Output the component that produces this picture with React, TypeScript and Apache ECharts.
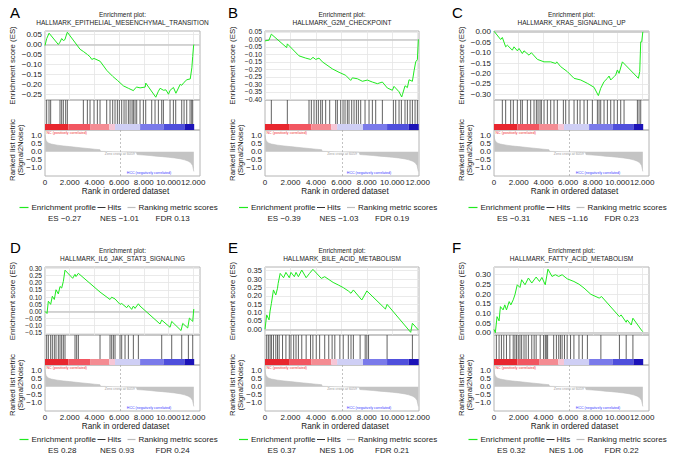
import React, { useEffect, useRef } from "react";
import * as echarts from "echarts";

// ---------------- data ----------------
const PANEL_LETTERS = ["A", "B", "C", "D", "E", "F"];
const GENE_SETS = [
  "HALLMARK_EPITHELIAL_MESENCHYMAL_TRANSITION",
  "HALLMARK_G2M_CHECKPOINT",
  "HALLMARK_KRAS_SIGNALING_UP",
  "HALLMARK_IL6_JAK_STAT3_SIGNALING",
  "HALLMARK_BILE_ACID_METABOLISM",
  "HALLMARK_FATTY_ACID_METABOLISM",
];
const ES_VALUES = [-0.27, -0.39, -0.31, 0.28, 0.37, 0.32];
const NES_VALUES = [-1.01, -1.03, -1.16, 0.93, 1.06, 1.06];
const FDR_VALUES = [0.13, 0.19, 0.23, 0.24, 0.21, 0.22];

const ES_TICKS_A = [0.05, 0, -0.05, -0.1, -0.15, -0.2, -0.25];
const ES_TICKS_B = [0.05, 0, -0.05, -0.1, -0.15, -0.2, -0.25, -0.3, -0.35, -0.4];
const ES_TICKS_C = [0, -0.05, -0.1, -0.15, -0.2, -0.25, -0.3];
const ES_TICKS_D = [0.3, 0.25, 0.2, 0.15, 0.1, 0.05, 0, -0.05, -0.1, -0.15];
const ES_TICKS_E = [0.35, 0.3, 0.25, 0.2, 0.15, 0.1, 0.05, 0];
const ES_TICKS_F = [0.3, 0.25, 0.2, 0.15, 0.1, 0.05, 0];

const ES_PROFILE_A = [
  [0, -0.005], [140, 0.03], [330, 0.057], [1080, 0.0], [1215, 0.012], [1350, 0.03], [1485, 0.02], [1620, 0.025],
  [1680, 0.038], [1810, 0.062], [2840, -0.024], [3105, -0.035], [3430, -0.05], [3650, -0.062], [3790, -0.075],
  [3970, -0.07], [4460, -0.084], [5000, -0.13], [5480, -0.16], [5860, -0.18], [6350, -0.208], [6750, -0.22],
  [7160, -0.232], [7300, -0.22], [7430, -0.214], [7700, -0.218], [8110, -0.214], [8160, -0.194], [8970, -0.265],
  [9180, -0.235], [9320, -0.22], [9590, -0.23], [9790, -0.228], [10000, -0.25], [10130, -0.23], [10400, -0.216],
  [10600, -0.245], [10950, -0.2], [11070, -0.205], [11260, -0.19], [11490, -0.177], [11760, -0.173],
  [11890, -0.117], [11960, -0.06], [12030, -0.007], [12050, 0.0],
];
const HITS_A = [
  135, 324, 459, 1215, 1350, 1485, 1674, 1809, 3105, 3429, 3645, 3969, 4239, 4455, 4995, 5265, 5481, 5670, 5859,
  6021, 6210, 6399, 6561, 6750, 6885, 7047, 7155, 7290, 7425, 7695, 7965, 8154, 8640, 8910, 9180, 9450, 9585,
  10125, 10395, 10584, 11070, 11259, 11475, 11745, 11880, 11961,
];

const ES_PROFILE_B = [
  [0, -0.01], [314, -0.005], [498, 0.035], [1703, -0.055], [1755, -0.03], [2672, -0.11], [3196, -0.125],
  [3589, -0.134], [3773, -0.12], [3982, -0.134], [4244, -0.125], [4506, -0.15], [5292, -0.197], [5816, -0.22],
  [6340, -0.24], [6733, -0.274], [6864, -0.257], [7257, -0.263], [7650, -0.28], [8043, -0.272], [8436, -0.285],
  [8829, -0.296], [9222, -0.285], [9615, -0.325], [10008, -0.34], [10139, -0.314], [10532, -0.35], [10742, -0.385],
  [10794, -0.37], [11004, -0.31], [11187, -0.322], [11318, -0.27], [11580, -0.28], [11711, -0.21], [11842, -0.15],
  [11973, -0.135], [12052, 0.0],
];
const HITS_B = [
  498, 1755, 3458, 3642, 3851, 4035, 4192, 4375, 4506, 4768, 5083, 5554, 5685, 5947, 6131, 6288, 6471, 6602, 6812,
  6995, 7179, 7336, 7519, 7860, 8174, 8436, 8698, 9222, 10087, 10270, 10532, 10716, 11000, 11187, 11397, 11580,
  11790, 11973,
];

const ES_PROFILE_C = [
  [0, 0.003], [540, -0.037], [675, -0.027], [945, -0.072], [1080, -0.064], [1485, -0.088], [1620, -0.072],
  [1890, -0.091], [2025, -0.08], [2295, -0.104], [2430, -0.091], [2835, -0.112], [3024, -0.1], [3510, -0.132],
  [4050, -0.144], [4590, -0.144], [4995, -0.152], [5076, -0.144], [5400, -0.167], [5940, -0.191], [6480, -0.223],
  [7020, -0.231], [7560, -0.247], [8100, -0.266], [8451, -0.306], [8640, -0.271], [8910, -0.239], [9180, -0.223],
  [9315, -0.212], [9450, -0.231], [9720, -0.215], [9855, -0.207], [9990, -0.183], [10125, -0.199], [10395, -0.144],
  [11691, -0.223], [11799, -0.191], [11880, -0.048], [11961, -0.048], [12050, 0.0],
];
const HITS_C = [
  675, 945, 1350, 1566, 1890, 2160, 2295, 2700, 2970, 3240, 3429, 3564, 3726, 3834, 4050, 4320, 4590, 4860, 5130,
  5616, 5805, 6075, 6480, 6750, 6966, 7290, 7560, 7965, 8370, 8505, 8640, 8910, 9180, 9450, 9720, 9990, 10260,
  10530, 11610, 11745, 11880,
];

const ES_PROFILE_D = [
  [0, 0.0], [162, -0.015], [270, 0.071], [459, 0.049], [594, 0.106], [756, 0.083], [891, 0.151], [1080, 0.122],
  [1215, 0.174], [1350, 0.163], [1485, 0.209], [1620, 0.288], [2241, 0.231], [2430, 0.259], [2511, 0.243],
  [2700, 0.266], [4455, 0.135], [5265, 0.083], [5400, 0.099], [5670, 0.087], [6075, 0.049], [6210, 0.055],
  [6615, 0.026], [6750, 0.042], [7020, 0.014], [7155, 0.037], [7290, 0.021], [7560, 0.053], [7695, 0.037],
  [9315, -0.088], [9450, -0.061], [10125, -0.111], [10260, -0.07], [11016, -0.134], [11151, -0.084],
  [11556, -0.116], [11691, -0.047], [11961, -0.07], [12042, 0.014], [12050, 0.008],
];
const HITS_D = [
  135, 270, 459, 594, 756, 891, 1080, 1215, 1350, 1485, 1620, 2430, 2565, 2700, 4455, 5265, 5400, 5535, 5670,
  6075, 6210, 6480, 6750, 7155, 7560, 9450, 10260, 11070, 11610, 11961,
];

const ES_PROFILE_E = [
  [0, 0.0], [133, 0.086], [318, 0.056], [398, 0.109], [504, 0.155], [663, 0.235], [848, 0.205], [981, 0.245],
  [1034, 0.274], [1193, 0.334], [1458, 0.308], [1643, 0.34], [1908, 0.308], [2041, 0.34], [2306, 0.314],
  [2438, 0.34], [2624, 0.314], [2889, 0.354], [3233, 0.308], [3498, 0.334], [3763, 0.358], [4426, 0.304],
  [4691, 0.314], [5353, 0.28], [5751, 0.265], [6148, 0.249], [6546, 0.229], [6758, 0.215], [6943, 0.235],
  [7606, 0.175], [8003, 0.229], [9461, 0.121], [9593, 0.149], [11448, -0.018], [11581, 0.036], [12050, -0.004],
];
const HITS_E = [
  133, 265, 398, 504, 663, 848, 981, 1113, 1378, 1643, 1908, 2041, 2253, 2438, 2624, 2889, 3233, 3578, 3763,
  4028, 4293, 4691, 5009, 5274, 5486, 5883, 6148, 6546, 6758, 6943, 7473, 7871, 8003, 8136, 9593, 11581,
];

const ES_PROFILE_F = [
  [0, 0.017], [109, 0.0], [246, 0.083], [410, 0.061], [519, 0.135], [737, 0.118], [874, 0.144], [1010, 0.118],
  [1229, 0.161], [1365, 0.144], [1556, 0.17], [1693, 0.196], [1884, 0.248], [2102, 0.234], [2239, 0.274],
  [2512, 0.248], [2785, 0.283], [3058, 0.257], [3413, 0.288], [3686, 0.265], [3877, 0.286], [4150, 0.248],
  [4368, 0.329], [4696, 0.291], [4969, 0.3], [5242, 0.291], [5515, 0.3], [5924, 0.279], [6470, 0.265],
  [6880, 0.251], [7289, 0.231], [7835, 0.199], [8518, 0.179], [8709, 0.187], [10156, 0.083], [10292, 0.092],
  [10702, 0.054], [10784, 0.066], [11111, 0.04], [11248, 0.075], [11930, 0.014], [12050, 0.005],
];
const HITS_F = [
  191, 410, 601, 792, 1010, 1283, 1556, 1693, 1829, 1966, 2102, 2239, 2430, 2594, 2785, 3058, 3249, 3413, 3740,
  4013, 4150, 4232, 4341, 4832, 5051, 5242, 5378, 5515, 5706, 5924, 6197, 6470, 6880, 7153, 7562, 8654, 10156,
  10702, 11248,
];

// ranked list metric (shared dataset)
const METRIC_RANKS = [
  0, 30, 100, 250, 500, 1000, 1500, 2000, 2500, 3000, 3500, 4000, 4450, 4500, 5000, 5500, 6059, 6500, 7000, 7400,
  7450, 8000, 8500, 9000, 9500, 10000, 10500, 11000, 11300, 11600, 11800, 11950, 12050,
];
const METRIC_SCORES = [
  1.05, 0.85, 0.68, 0.55, 0.48, 0.41, 0.36, 0.32, 0.28, 0.24, 0.2, 0.16, 0.13, 0.03, 0.02, 0.01, 0, -0.01, -0.02,
  -0.03, -0.17, -0.2, -0.23, -0.27, -0.3, -0.34, -0.38, -0.44, -0.5, -0.58, -0.68, -0.85, -1.22,
];
const METRIC_TICKS = [1, 0.5, 0, -0.5, -1];
const RANK_TICKS = [0, 2000, 4000, 6000, 8000, 10000, 12000];
const ZERO_CROSS = 6059;

const COLORBAR_EDGES = [0, 1890, 3650, 5210, 5670, 7700, 9590, 11290, 12080];
const COLORBAR_COLORS = ["#e8262e", "#f25661", "#f48c93", "#f6c6d6", "#cfcff5", "#7a7aea", "#4f4fdc", "#1c13b8"];

// ---------------- layout ----------------
const FONT = '"Liberation Sans", Arial, sans-serif';
const COLS = [
  { left: 45, right: 200 },
  { left: 265, right: 419 },
  { left: 494, right: 649 },
];
const ROWS = [
  { esTop: 31, esBottom: 100, hitsBottom: 130, rkBottom: 176, titleY: 14, letterY: 12, xNameY: 191.5, legendY: 207.5, statsY: 218.5 },
  { esTop: 267, esBottom: 335, hitsBottom: 365, rkBottom: 411, titleY: 250, letterY: 247.5, xNameY: 426, legendY: 439.5, statsY: 450 },
];
const PANEL_CFG = [
  { es: ES_PROFILE_A, hits: HITS_A, ticks: ES_TICKS_A, min: -0.279, max: 0.068, xmax: 12550, tickFont: 8 },
  { es: ES_PROFILE_B, hits: HITS_B, ticks: ES_TICKS_B, min: -0.405, max: 0.056, xmax: 12100, tickFont: 6.8 },
  { es: ES_PROFILE_C, hits: HITS_C, ticks: ES_TICKS_C, min: -0.327, max: 0.004, xmax: 12550, tickFont: 8 },
  { es: ES_PROFILE_D, hits: HITS_D, ticks: ES_TICKS_D, min: -0.165, max: 0.31, xmax: 12550, tickFont: 6.6 },
  { es: ES_PROFILE_E, hits: HITS_E, ticks: ES_TICKS_E, min: -0.034, max: 0.372, xmax: 12100, tickFont: 7.6 },
  { es: ES_PROFILE_F, hits: HITS_F, ticks: ES_TICKS_F, min: -0.012, max: 0.34, xmax: 12550, tickFont: 8 },
];

const BORDER = "#b4b4b4";
const GRIDLINE = "#e4e4e4";

const fmtRank = (v: number) => String(Math.round(v)).replace(/\B(?=(\d{3})+(?!\d))/g, ".");
const fmtNum = (d: number) => (v: number) => {
  const x = Math.abs(v) < 1e-9 ? 0 : v;
  return x.toFixed(d).replace("-", "\u2212");
};
const signed = (v: number) => fmtNum(2)(v);

function text(x: number, y: number, s: string, size: number, fill: string, align = "left", extra: any = {}) {
  return {
    type: "text",
    x,
    y,
    silent: true,
    ...extra,
    style: { text: s, fontSize: size, fontFamily: FONT, fill, align, verticalAlign: "middle" },
  };
}
function hline(x1: number, x2: number, y: number, color: string, w = 1) {
  return { type: "line", silent: true, shape: { x1, y1: y, x2, y2: y }, style: { stroke: color, lineWidth: w } };
}

function buildOption() {
  const grid: any[] = [];
  const xAxis: any[] = [];
  const yAxis: any[] = [];
  const series: any[] = [];
  const graphic: any[] = [];
  const metric = METRIC_RANKS.map((r, i) => [r, METRIC_SCORES[i]]);
  const segments = COLORBAR_COLORS.map((c, i) => [COLORBAR_EDGES[i], COLORBAR_EDGES[i + 1], i]);

  PANEL_CFG.forEach((p, i) => {
    const col = COLS[i % 3];
    const row = ROWS[Math.floor(i / 3)];
    const L = col.left;
    const W = col.right - col.left;
    const c = (col.left + col.right) / 2;
    const base = grid.length;

    grid.push({ left: L, top: row.esTop, width: W, height: row.esBottom - row.esTop, show: true, borderColor: BORDER, borderWidth: 1 });
    grid.push({ left: L, top: row.esBottom, width: W, height: row.hitsBottom - row.esBottom, show: true, borderColor: BORDER, borderWidth: 1 });
    grid.push({ left: L, top: row.hitsBottom, width: W, height: row.rkBottom - row.hitsBottom, show: true, borderColor: BORDER, borderWidth: 1 });

    const xBase = { type: "value", min: 0, max: p.xmax, axisLine: { show: false } };
    xAxis.push({
      ...xBase,
      gridIndex: base,
      axisLabel: { show: false },
      axisTick: { show: false, customValues: RANK_TICKS },
      splitLine: { show: true, lineStyle: { color: GRIDLINE, width: 0.8 } },
    });
    xAxis.push({ ...xBase, gridIndex: base + 1, axisLabel: { show: false }, axisTick: { show: false }, splitLine: { show: false } });
    xAxis.push({
      ...xBase,
      gridIndex: base + 2,
      axisLabel: { customValues: RANK_TICKS, formatter: fmtRank, fontSize: 8, color: "#222", margin: 2, fontFamily: FONT },
      axisTick: { show: false, customValues: RANK_TICKS },
      splitLine: { show: false },
    });

    yAxis.push({
      type: "value",
      gridIndex: base,
      min: p.min,
      max: p.max,
      axisLine: { show: false },
      axisTick: { show: false, customValues: p.ticks },
      axisLabel: { customValues: p.ticks, formatter: fmtNum(2), fontSize: p.tickFont, lineHeight: p.tickFont, color: "#222", margin: 3, fontFamily: FONT },
      splitLine: { show: true, lineStyle: { color: GRIDLINE, width: 0.8 } },
    });
    yAxis.push({
      type: "value",
      gridIndex: base + 1,
      min: 0,
      max: 1,
      axisLine: { show: false },
      axisTick: { show: false },
      axisLabel: { show: false },
      splitLine: { show: false },
    });
    yAxis.push({
      type: "value",
      gridIndex: base + 2,
      min: -1.5,
      max: 1.35,
      axisLine: { show: false },
      axisTick: { show: false, customValues: METRIC_TICKS },
      axisLabel: { customValues: METRIC_TICKS, formatter: fmtNum(1), fontSize: 8, color: "#222", margin: 3, fontFamily: FONT },
      splitLine: { show: false },
    });

    series.push({
      name: "Enrichment profile",
      type: "line",
      xAxisIndex: base,
      yAxisIndex: base,
      data: p.es,
      showSymbol: false,
      symbol: "none",
      lineStyle: { color: "#1fea1f", width: 1 },
      z: 5,
      markLine: {
        silent: true,
        symbol: ["none", "none"],
        label: { show: false },
        lineStyle: { color: "#c8c8c8", width: 1.6, type: "solid" },
        data: [{ yAxis: 0 }],
      },
    });
    series.push({
      name: "Hits",
      type: "custom",
      xAxisIndex: base + 1,
      yAxisIndex: base + 1,
      data: p.hits.map((h) => [h, 0.5]),
      renderItem: (_params: any, api: any) => {
        const x = api.value(0);
        const a = api.coord([x, 1]);
        const b = api.coord([x, 0.2]);
        return {
          type: "line",
          shape: { x1: a[0], y1: a[1], x2: b[0], y2: b[1] },
          style: { stroke: "#3a3a3a", lineWidth: 0.8 },
        };
      },
    });
    series.push({
      name: "colorbar",
      type: "custom",
      xAxisIndex: base + 1,
      yAxisIndex: base + 1,
      data: segments,
      renderItem: (_params: any, api: any) => {
        const a = api.coord([api.value(0), 0.2]);
        const b = api.coord([api.value(1), 0]);
        return {
          type: "rect",
          shape: { x: a[0], y: a[1], width: b[0] - a[0], height: b[1] - a[1] },
          style: { fill: COLORBAR_COLORS[api.value(2)] },
        };
      },
    });
    series.push({
      name: "Ranking metric scores",
      type: "line",
      xAxisIndex: base + 2,
      yAxisIndex: base + 2,
      data: metric,
      showSymbol: false,
      symbol: "none",
      lineStyle: { color: "#bdbdbd", width: 0.6 },
      areaStyle: { color: "#c4c4c4", opacity: 1 },
      markLine: {
        silent: true,
        symbol: ["none", "none"],
        label: { show: false },
        lineStyle: { color: "#a8a8a8", width: 0.7, type: [2, 2] },
        data: [{ xAxis: ZERO_CROSS }],
      },
    });

    // ---- texts ----
    const zx = L + (W * ZERO_CROSS) / p.xmax;
    const letterX = [10, 228, 452][i % 3];
    graphic.push(text(letterX, row.letterY, PANEL_LETTERS[i], 15, "#000", "left"));
    graphic.push(text(c, row.titleY, "Enrichment plot:", 6.5, "#222", "center"));
    graphic.push(text(c, row.titleY + 8.3, GENE_SETS[i], 6.5, "#222", "center"));
    graphic.push(
      text(L - 33, (row.esTop + row.esBottom) / 2, "Enrichment score (ES)", 7.8, "#222", "center", { rotation: Math.PI / 2 })
    );
    graphic.push(text(L - 33, row.hitsBottom + 20, "Ranked list metric", 7.8, "#222", "center", { rotation: Math.PI / 2 }));
    graphic.push(text(L - 25, row.hitsBottom + 20, "(Signal2Noise)", 7.8, "#222", "center", { rotation: Math.PI / 2 }));
    graphic.push(text(c + 3, row.xNameY, "Rank in ordered dataset", 8.2, "#222", "center"));
    graphic.push(text(L + 1.5, row.hitsBottom + 3, "NC (positively correlated)", 3.6, "#f03030", "left"));
    graphic.push(text(zx, row.hitsBottom + 23.5, "Zero cross at " + ZERO_CROSS, 3.6, "#9a9a9a", "center"));
    graphic.push(text(L + 104, row.rkBottom - 3.5, "HCC (negatively correlated)", 3.6, "#3a3aff", "center"));

    // legend
    const ly = row.legendY;
    graphic.push(hline(c - 103, c - 94, ly, "#1fea1f", 1.2));
    graphic.push(text(c - 91, ly, "Enrichment profile", 8, "#222"));
    graphic.push(hline(c - 25, c - 17, ly, "#333", 1));
    graphic.push(text(c - 15, ly, "Hits", 8, "#222"));
    graphic.push(hline(c + 5, c + 13, ly, "#bdbdbd", 1.2));
    graphic.push(text(c + 16, ly, "Ranking metric scores", 8, "#222"));
    // stats
    graphic.push(text(c - 74.5, row.statsY, "ES " + signed(ES_VALUES[i]), 8, "#222"));
    graphic.push(text(c - 22.5, row.statsY, "NES " + signed(NES_VALUES[i]), 8, "#222"));
    graphic.push(text(c + 33, row.statsY, "FDR " + FDR_VALUES[i].toFixed(2), 8, "#222"));
  });

  return {
    animation: false,
    backgroundColor: "#ffffff",
    textStyle: { fontFamily: FONT },
    grid,
    xAxis,
    yAxis,
    series,
    graphic: { elements: graphic },
  };
}

export default function App() {
  const ref = useRef<HTMLDivElement>(null);
  useEffect(() => {
    if (!ref.current) return;
    const chart = echarts.init(ref.current, undefined, { renderer: "svg" });
    chart.setOption(buildOption() as any);
    return () => chart.dispose();
  }, []);
  return (
    <div
      ref={ref}
      style={{ position: "fixed", left: 0, top: 0, width: 677, height: 458, background: "#fff" }}
    />
  );
}
